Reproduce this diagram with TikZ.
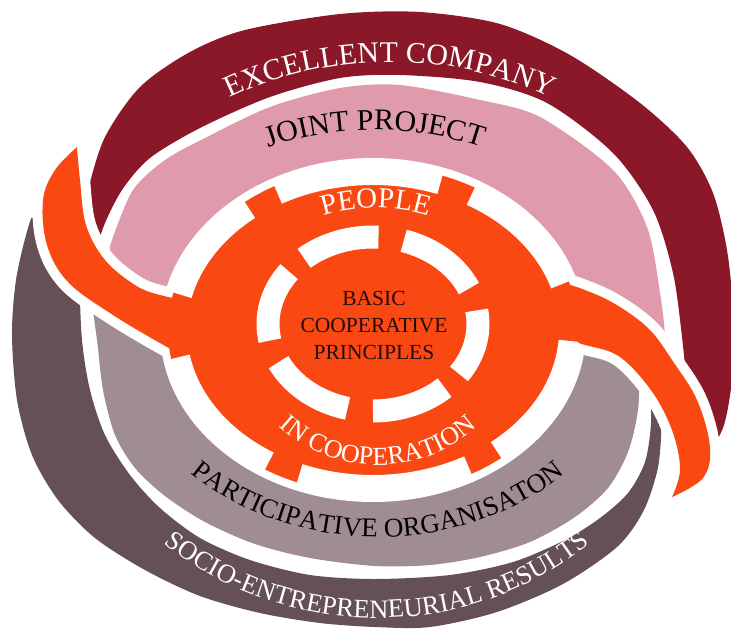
\documentclass[tikz,border=0pt]{standalone}
\usepackage{fontspec}
\setmainfont{Liberation Serif}
\usetikzlibrary{decorations.text}

\definecolor{crimsonband}{RGB}{138,24,40}
\definecolor{roseband}{RGB}{223,154,172}
\definecolor{mauveband}{RGB}{160,140,147}
\definecolor{plumband}{RGB}{101,80,88}
\definecolor{coreorange}{RGB}{250,72,18}
\definecolor{coreink}{RGB}{36,12,12}

\begin{document}
\begin{tikzpicture}[x=1pt, y=-1pt,
  arclabel/.style={decorate, decoration={text along path, text align=center, text={#1}}},
  swoosh/.style={fill=coreorange, preaction={draw=white, line width=20pt, line join=round}},
  outerdash/.style={draw=white, line width=20pt},
  innerdash/.style={draw=white, line width=23pt}]

\useasboundingbox (0,0) rectangle (731,629);
\fill[white] (0,0) rectangle (731,629);
\clip (0,0) rectangle (731,629);

% upper spiral: crimson and rose bands, kept on the upper side of the swoosh
\begin{scope}
  \clip (-20,-20) -- (760,-20) -- (760,540) -- (672,497) -- (685,485) -- (695,460) -- (688,420)
    -- (665,375) -- (635,335) -- (590,318) -- (540,315) -- (220,330) -- (175,320) -- (125,300)
    -- (90,283) -- (66,250) -- (62,200) -- (77,147) -- (-20,147) -- cycle;
  \fill[crimsonband]
    plot[smooth] coordinates {(68,270) (80,230) (88,190) (105,137) (140,87) (190,52) (245,30)
      (340,14) (420,12) (500,24) (570,55) (640,103) (687,147) (713,193) (727,250) (733,310)
      (733,370) (724,425) (705,460)}
    -- plot[smooth] coordinates {(690,455) (688,400) (682,337) (673,273) (653,210) (613,153)
      (547,103) (480,82) (400,75) (340,78) (270,97) (200,128) (150,158) (122,190) (103,228)
      (93,265)} -- cycle;
  \fill[roseband]
    plot[smooth] coordinates {(100,290) (108,260) (112,240) (133,190) (165,160) (205,138)
      (270,107) (340,88) (400,85) (480,100) (540,117) (613,170) (647,227) (660,293) (665,340)
      (660,380)}
    -- plot[smooth] coordinates {(560,380) (540,250) (480,200) (373,180) (260,200) (200,250)
      (180,300) (150,330)} -- cycle;
\end{scope}

% lower spiral: plum and mauve bands, kept on the lower side of the swoosh
\begin{scope}
  \clip (-20,235) -- (50,212) -- (66,250) -- (90,283) -- (125,300) -- (175,320) -- (220,330)
    -- (540,315) -- (590,318) -- (635,335) -- (665,375) -- (688,420) -- (695,460) -- (685,485)
    -- (672,497) -- (760,560) -- (760,660) -- (-20,660) -- cycle;
  \fill[plumband]
    plot[smooth] coordinates {(45,180) (28,228) (16,280) (12,335) (17,400) (32,455) (58,500)
      (95,538) (145,570) (200,596) (260,613) (320,623) (375,627) (430,627) (497,612) (563,584)
      (617,547) (643,512) (657,472) (661,437) (660,400)}
    -- plot[smooth] coordinates {(650,380) (651,423) (645,462) (628,493) (600,518) (565,540)
      (513,562) (450,575) (375,579) (310,575) (250,560) (200,538) (160,508) (130,475)
      (105,435) (90,390) (82,340) (80,280) (84,200)} -- cycle;
  \fill[mauveband]
    plot[smooth] coordinates {(90,290) (97,340) (103,390) (115,435) (135,468) (165,496)
      (205,522) (255,544) (310,558) (375,566) (430,565) (480,557) (530,542) (575,517)
      (608,488) (628,452) (638,410) (640,360)}
    -- plot[smooth] coordinates {(560,340) (540,420) (470,470) (373,490) (270,470) (200,420)
      (185,340)} -- cycle;
\end{scope}

% central wheel
\coordinate (hub) at (373,330);
\coordinate (eye) at (373,324);
\fill[white] (hub) ellipse [x radius=213, y radius=172];

% the two arms of the swoosh
\path[swoosh]
  plot[smooth, tension=0.6] coordinates {(235,300) (190,300) (160,295) (135,285) (105,260)
    (86,225) (80,180) (77,147)}
  -- plot[smooth, tension=0.6] coordinates {(77,147) (55,170) (43,200) (47,245) (68,282)
    (113,315) (167,347) (193,360) (235,372)} -- cycle;
\path[swoosh]
  plot[smooth, tension=0.6] coordinates {(520,292) (557,283) (590,292) (620,307) (650,330)
    (672,360) (697,400) (710,447) (703,478) (672,497)}
  -- plot[smooth, tension=0.6] coordinates {(672,497) (680,470) (673,433) (653,393) (620,357)
    (585,345) (560,340) (520,347)} -- cycle;

\fill[coreorange] (hub) ellipse [x radius=205, y radius=164];
\foreach \s/\e in {-60/-17, -119/-70, -167/-129, -238/-190, -299/-248, -356/-309}
  \draw[outerdash] (hub) ++(\s:196 and 155) arc[start angle=\s, end angle=\e, x radius=196, y radius=155];
\foreach \s/\e in {-73/-24, -131/-87, -191/-143, -256/-206, -313/-270, -369/-325}
  \draw[innerdash] (eye) ++(\s:105 and 87) arc[start angle=\s, end angle=\e, x radius=105, y radius=87];

% lettering
\path[arclabel={|\color{white}\fontsize{30}{36}\selectfont|EXCELLENT COMPANY}]
  (390,330) ++(180:320 and 268) arc[start angle=180, end angle=360, x radius=320, y radius=268];
\path[arclabel={|\color{black}\fontsize{30}{36}\selectfont|JOINT PROJECT}]
  (375,330) ++(180:260 and 200) arc[start angle=180, end angle=360, x radius=260, y radius=200];
\path[arclabel={|\color{white}\fontsize{29}{34}\selectfont|PEOPLE}]
  (376,325) ++(180:146 and 117) arc[start angle=180, end angle=360, x radius=146, y radius=117];
\path[arclabel={|\color{white}\fontsize{26}{31}\selectfont|IN COOPERATION}]
  (378,322) ++(180:146 and 143) arc[start angle=180, end angle=0, x radius=146, y radius=143];
\path[arclabel={|\color{black}\fontsize{27}{32}\selectfont|PARTICIPATIVE ORGANISATON}]
  (378,325) ++(180:262 and 212) arc[start angle=180, end angle=0, x radius=262, y radius=212];
\path[arclabel={|\color{white}\fontsize{26.5}{32}\selectfont|SOCIO-ENTREPRENEURIAL RESULTS}]
  (377,312) ++(180:326 and 306) arc[start angle=180, end angle=0, x radius=326, y radius=306];

\node[align=center, text=coreink, font=\fontsize{21.5}{27}\selectfont] (principles) at (374,325)
  {BASIC\\COOPERATIVE\\PRINCIPLES};
\end{tikzpicture}
\end{document}
